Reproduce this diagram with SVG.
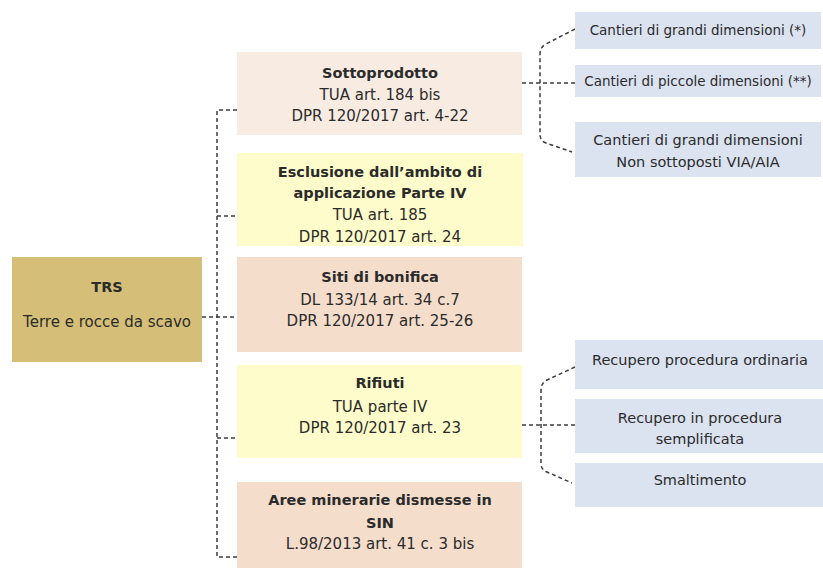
<svg xmlns="http://www.w3.org/2000/svg" width="823" height="570" viewBox="0 0 823 570">
<style>
text{font-family:"DejaVu Sans","Liberation Sans",sans-serif;fill:#2b2b2b;text-anchor:middle}
.b{font-weight:bold;font-size:14.5px}
.r{font-size:15px}
.s{font-size:13.5px}
.m{font-size:14.5px}
.gold{fill:#d5bf78}
.peach1{fill:#f8ece2}
.peach{fill:#f5ddcc}
.yel{fill:#fdfcca}
.blue{fill:#dbe2f0}
.c{fill:none;stroke:#3c3c3c;stroke-width:1.5;stroke-dasharray:4 3}
</style>
<rect width="823" height="570" fill="#ffffff"/>
<g id="connectors">
<path class="c" d="M237,110 H217 V557 H237"/>
<path class="c" d="M202,317 H237"/>
<path class="c" d="M217,216 H237"/>
<path class="c" d="M217,438 H237"/>
<path class="c" d="M522,83 H575"/>
<path class="c" d="M575,29 L546,44 Q540,47 540,54 V134 Q540,141 546,143 L572,152"/>
<path class="c" d="M522,425 H575"/>
<path class="c" d="M575,367 L547,380 Q541,383 541,390 V463 Q541,470 547,472 L572,483"/>
</g>
<g id="trs">
<rect class="gold" x="12" y="257" width="190" height="105"/>
<text class="b" x="107" y="292">TRS</text>
<text class="r" x="107" y="327">Terre e rocce da scavo</text>
</g>
<g id="sottoprodotto">
<rect class="peach1" x="237" y="52" width="285" height="83"/>
<text class="b" x="380" y="78">Sottoprodotto</text>
<text class="r" x="380" y="100">TUA art. 184 bis</text>
<text class="r" x="380" y="121">DPR 120/2017 art. 4-22</text>
</g>
<g id="esclusione">
<rect class="yel" x="237" y="153" width="286" height="93"/>
<text class="b" x="380" y="177">Esclusione dall’ambito di</text>
<text class="b" x="380" y="198">applicazione Parte IV</text>
<text class="r" x="380" y="220">TUA art. 185</text>
<text class="r" x="380" y="242">DPR 120/2017 art. 24</text>
</g>
<g id="bonifica">
<rect class="peach" x="237" y="257" width="285" height="95"/>
<text class="b" x="380" y="282">Siti di bonifica</text>
<text class="r" x="380" y="305">DL 133/14 art. 34 c.7</text>
<text class="r" x="380" y="326">DPR 120/2017 art. 25-26</text>
</g>
<g id="rifiuti">
<rect class="yel" x="237" y="365" width="285" height="93"/>
<text class="b" x="380" y="388">Rifiuti</text>
<text class="r" x="380" y="412">TUA parte IV</text>
<text class="r" x="380" y="433">DPR 120/2017 art. 23</text>
</g>
<g id="aree">
<rect class="peach" x="237" y="482" width="285" height="86"/>
<text class="b" x="380" y="505">Aree minerarie dismesse in</text>
<text class="b" x="380" y="528">SIN</text>
<text class="r" x="380" y="549">L.98/2013 art. 41 c. 3 bis</text>
</g>
<g id="cantieri-grandi">
<rect class="blue" x="575" y="12" width="246" height="37"/>
<text class="s" x="698" y="35">Cantieri di grandi dimensioni (*)</text>
</g>
<g id="cantieri-piccole">
<rect class="blue" x="575" y="65" width="246" height="32"/>
<text class="s" x="698" y="86">Cantieri di piccole dimensioni (**)</text>
</g>
<g id="cantieri-non-via">
<rect class="blue" x="575" y="122" width="246" height="55"/>
<text class="m" x="698" y="145">Cantieri di grandi dimensioni</text>
<text class="m" x="698" y="167">Non sottoposti VIA/AIA</text>
</g>
<g id="recupero-ordinaria">
<rect class="blue" x="575" y="340" width="248" height="49"/>
<text class="m" x="700" y="365">Recupero procedura ordinaria</text>
</g>
<g id="recupero-semplificata">
<rect class="blue" x="575" y="399" width="248" height="54"/>
<text class="m" x="700" y="423">Recupero in procedura</text>
<text class="m" x="700" y="444">semplificata</text>
</g>
<g id="smaltimento">
<rect class="blue" x="575" y="463" width="248" height="44"/>
<text class="m" x="700" y="485">Smaltimento</text>
</g>
</svg>
